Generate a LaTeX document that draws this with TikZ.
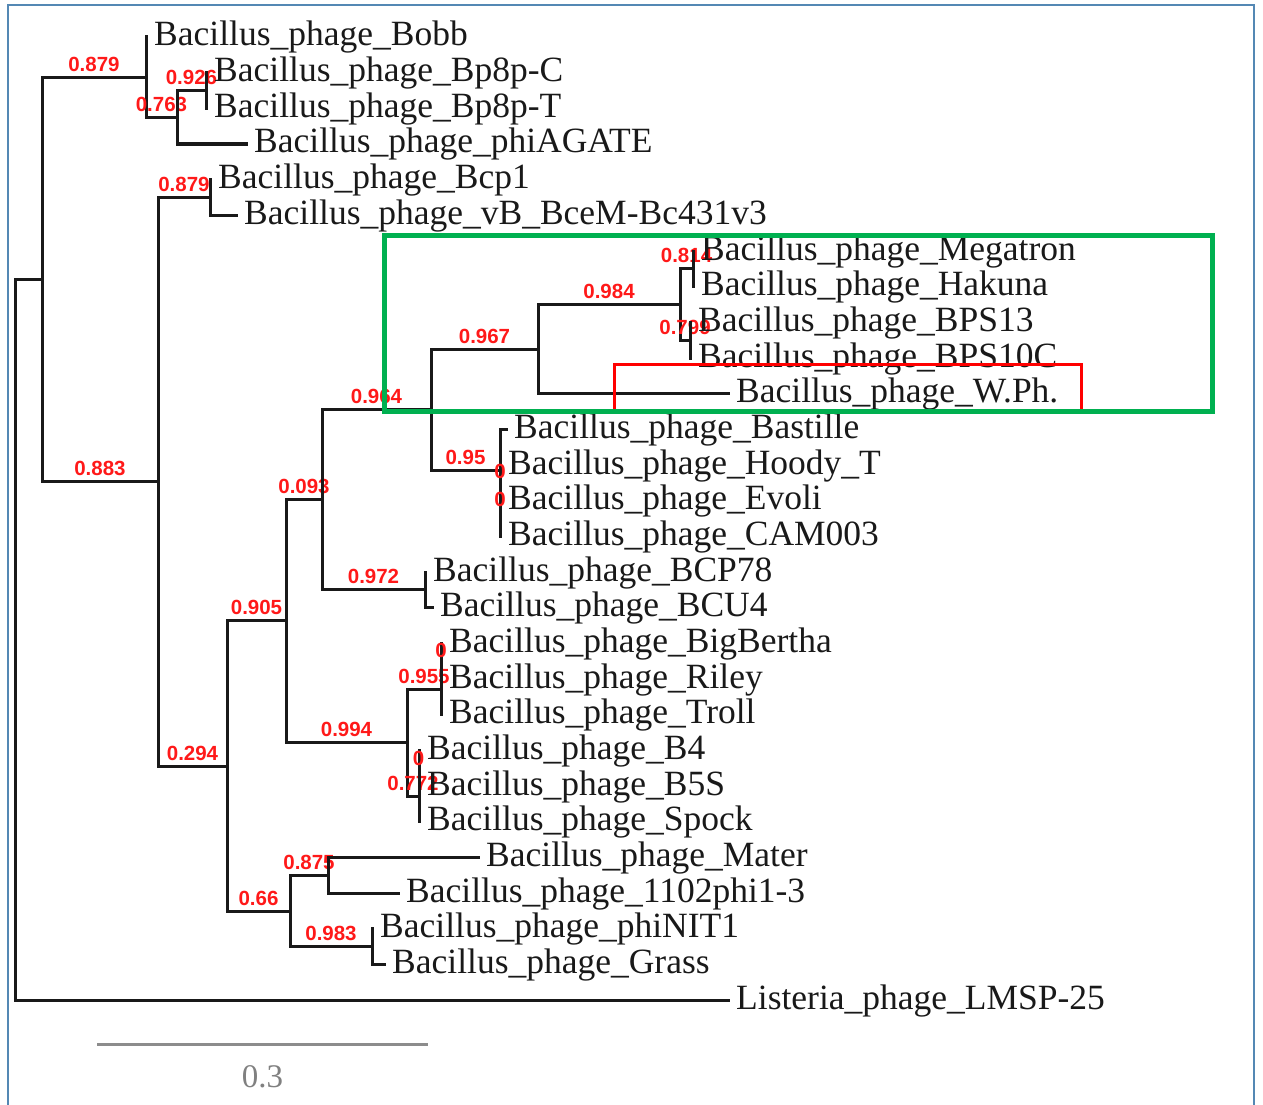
\documentclass[tikz,border=0pt]{standalone}
\usepackage{fontspec}
\setmainfont{Liberation Serif}
\newfontfamily\bsfont{Liberation Sans}[BoldFont={Liberation Sans Bold}]
\definecolor{framecol}{RGB}{84,136,180}
\definecolor{boxgreen}{RGB}{0,176,80}
\definecolor{bsred}{RGB}{255,25,25}
\definecolor{treeblack}{RGB}{25,25,25}
\begin{document}
\begin{tikzpicture}[x=1pt,y=-1pt,
  tree/.style={draw=treeblack,line width=3pt,line join=miter,line cap=rect},
  leaf/.style={anchor=base west,inner sep=0pt,xshift=8pt,yshift=-9pt,text=treeblack,
    font=\fontsize{35.5}{40}\selectfont},
  bs/.style={pos=0.75,anchor=base,inner sep=0pt,yshift=6pt,text=bsred,
    font=\bsfont\bfseries\fontsize{20.5}{22}\selectfont},
  zerolab/.style={anchor=center,inner sep=0pt,text=bsred,
    font=\bsfont\bfseries\fontsize{20.5}{22}\selectfont},
  scalebar/.style={draw=gray!90,line width=3pt},
  framestyle/.style={draw=framecol,line width=2pt},
  redbox/.style={draw=red,line width=2.5pt},
  greenbox/.style={draw=boxgreen,line width=5pt}]
\useasboundingbox (0,0) rectangle (1263,1105);
% frame
\coordinate (f1) at (7.5,1110);
\coordinate (f2) at (7.5,5);
\coordinate (f3) at (1254,5);
\coordinate (f4) at (1254,1110);
\draw[framestyle] (f1) -- (f2) -- (f3) -- (f4);
% internal nodes
\coordinate (root) at (15,640);
\coordinate (A) at (42,279.4);
\coordinate (B) at (146,77.1);
\coordinate (C) at (177,117.3);
\coordinate (D) at (206,90.5);
\coordinate (E) at (158,481.7);
\coordinate (F) at (210,197.5);
\coordinate (G) at (227,766);
\coordinate (H) at (286,620.9);
\coordinate (I) at (322,499.7);
\coordinate (J) at (431,409.5);
\coordinate (K) at (538,349.1);
\coordinate (L) at (680,304.5);
\coordinate (M) at (693,268.9);
\coordinate (N) at (690,340.2);
\coordinate (O) at (500,470);
\coordinate (P) at (425,589.9);
\coordinate (Q) at (407,742.5);
\coordinate (R) at (441,689);
\coordinate (S) at (419,796);
\coordinate (T) at (290,911);
\coordinate (U) at (328,875.3);
\coordinate (V) at (372,946.6);
% leaf tips
\coordinate (bobb) at (146,37);
\coordinate (bp8pc) at (206,72.7);
\coordinate (bp8pt) at (206,108.3);
\coordinate (agate) at (246,144);
\coordinate (bcp1) at (210,179.7);
\coordinate (bcem) at (236,215.4);
\coordinate (mega) at (693,251);
\coordinate (hakuna) at (693,286.7);
\coordinate (bps13) at (690,322.4);
\coordinate (bps10c) at (690,358);
\coordinate (wph) at (728,393.7);
\coordinate (bastille) at (506,429.4);
\coordinate (hoody) at (500,465);
\coordinate (evoli) at (500,500.7);
\coordinate (cam) at (500,536.4);
\coordinate (bcp78) at (425,572.1);
\coordinate (bcu4) at (432,607.7);
\coordinate (bigb) at (441,643.4);
\coordinate (riley) at (441,679.1);
\coordinate (troll) at (441,714.7);
\coordinate (b4) at (419,750.4);
\coordinate (b5s) at (419,786.1);
\coordinate (spock) at (419,821.7);
\coordinate (mater) at (478,857.4);
\coordinate (phi1102) at (398,893.1);
\coordinate (nit1) at (372,928.8);
\coordinate (grass) at (384,964.4);
\coordinate (listeria) at (728,1000.1);
% branches
\draw[tree] (root) |- (A);
\draw[tree] (root) |- (listeria);
\draw[tree] (A) |- node[bs] {0.879} (B);
\draw[tree] (A) |- node[bs] {0.883} (E);
\draw[tree] (B) |- (bobb);
\draw[tree] (B) |- node[bs] {0.763} (C);
\draw[tree] (C) |- node[bs] {0.926} (D);
\draw[tree] (C) |- (agate);
\draw[tree] (D) |- (bp8pc);
\draw[tree] (D) |- (bp8pt);
\draw[tree] (E) |- node[bs] {0.879} (F);
\draw[tree] (E) |- node[bs] {0.294} (G);
\draw[tree] (F) |- (bcp1);
\draw[tree] (F) |- (bcem);
\draw[tree] (G) |- node[bs] {0.905} (H);
\draw[tree] (G) |- node[bs] {0.66} (T);
\draw[tree] (H) |- node[bs] {0.093} (I);
\draw[tree] (H) |- node[bs] {0.994} (Q);
\draw[tree] (I) |- node[bs] {0.964} (J);
\draw[tree] (I) |- node[bs] {0.972} (P);
\draw[tree] (J) |- node[bs] {0.967} (K);
\draw[tree] (J) |- node[bs] {0.95} (O);
\draw[tree] (K) |- node[bs] {0.984} (L);
\draw[tree] (K) |- (wph);
\draw[tree] (L) |- node[bs] {0.814} (M);
\draw[tree] (L) |- node[bs] {0.799} (N);
\draw[tree] (M) |- (mega);
\draw[tree] (M) |- (hakuna);
\draw[tree] (N) |- (bps13);
\draw[tree] (N) |- (bps10c);
\draw[tree] (O) |- (bastille);
\draw[tree] (O) |- (hoody);
\draw[tree] (O) |- (evoli);
\draw[tree] (O) |- (cam);
\draw[tree] (P) |- (bcp78);
\draw[tree] (P) |- (bcu4);
\draw[tree] (Q) |- node[bs] {0.955} (R);
\draw[tree] (Q) |- node[bs] {0.772} (S);
\draw[tree] (R) |- (bigb);
\draw[tree] (R) |- (riley);
\draw[tree] (R) |- (troll);
\draw[tree] (S) |- (b4);
\draw[tree] (S) |- (b5s);
\draw[tree] (S) |- (spock);
\draw[tree] (T) |- node[bs] {0.875} (U);
\draw[tree] (T) |- node[bs] {0.983} (V);
\draw[tree] (U) |- (mater);
\draw[tree] (U) |- (phi1102);
\draw[tree] (V) |- (nit1);
\draw[tree] (V) |- (grass);
% zero labels
\node[zerolab] (z1) at (500,471.5) {0};
\node[zerolab] (z2) at (500,499.5) {0};
\node[zerolab] (z3) at (441,650) {0};
\node[zerolab] (z4) at (418.5,758) {0};
% leaf labels
\node[leaf] (t-bobb) at (bobb) {Bacillus\_phage\_Bobb};
\node[leaf] (t-bp8pc) at (bp8pc) {Bacillus\_phage\_Bp8p-C};
\node[leaf] (t-bp8pt) at (bp8pt) {Bacillus\_phage\_Bp8p-T};
\node[leaf] (t-agate) at (agate) {Bacillus\_phage\_phiAGATE};
\node[leaf] (t-bcp1) at (bcp1) {Bacillus\_phage\_Bcp1};
\node[leaf] (t-bcem) at (bcem) {Bacillus\_phage\_vB\_BceM-Bc431v3};
\node[leaf] (t-mega) at (mega) {Bacillus\_phage\_Megatron};
\node[leaf] (t-hakuna) at (hakuna) {Bacillus\_phage\_Hakuna};
\node[leaf] (t-bps13) at (bps13) {Bacillus\_phage\_BPS13};
\node[leaf] (t-bps10c) at (bps10c) {Bacillus\_phage\_BPS10C};
\node[leaf] (t-wph) at (wph) {Bacillus\_phage\_W.Ph.};
\node[leaf] (t-bastille) at (bastille) {Bacillus\_phage\_Bastille};
\node[leaf] (t-hoody) at (hoody) {Bacillus\_phage\_Hoody\_T};
\node[leaf] (t-evoli) at (evoli) {Bacillus\_phage\_Evoli};
\node[leaf] (t-cam) at (cam) {Bacillus\_phage\_CAM003};
\node[leaf] (t-bcp78) at (bcp78) {Bacillus\_phage\_BCP78};
\node[leaf] (t-bcu4) at (bcu4) {Bacillus\_phage\_BCU4};
\node[leaf] (t-bigb) at (bigb) {Bacillus\_phage\_BigBertha};
\node[leaf] (t-riley) at (riley) {Bacillus\_phage\_Riley};
\node[leaf] (t-troll) at (troll) {Bacillus\_phage\_Troll};
\node[leaf] (t-b4) at (b4) {Bacillus\_phage\_B4};
\node[leaf] (t-b5s) at (b5s) {Bacillus\_phage\_B5S};
\node[leaf] (t-spock) at (spock) {Bacillus\_phage\_Spock};
\node[leaf] (t-mater) at (mater) {Bacillus\_phage\_Mater};
\node[leaf] (t-phi1102) at (phi1102) {Bacillus\_phage\_1102phi1-3};
\node[leaf] (t-nit1) at (nit1) {Bacillus\_phage\_phiNIT1};
\node[leaf] (t-grass) at (grass) {Bacillus\_phage\_Grass};
\node[leaf] (t-listeria) at (listeria) {Listeria\_phage\_LMSP-25};
% scale bar
\coordinate (sb1) at (97,1044);
\coordinate (sb2) at (428,1044);
\draw[scalebar] (sb1) -- (sb2);
\node[anchor=base,inner sep=0pt,text=gray,font=\fontsize{33}{36}\selectfont] (sblab) at (262.5,1087) {0.3};
% highlight boxes
\coordinate (r1) at (614.5,411);
\coordinate (r2) at (614.5,364.5);
\coordinate (r3) at (1081.5,364.5);
\coordinate (r4) at (1081.5,411);
\draw[redbox] (r1) -- (r2) -- (r3) -- (r4);
\coordinate (g1) at (384.5,235.5);
\coordinate (g2) at (1212,411.5);
\draw[greenbox] (g1) rectangle (g2);
\end{tikzpicture}
\end{document}
